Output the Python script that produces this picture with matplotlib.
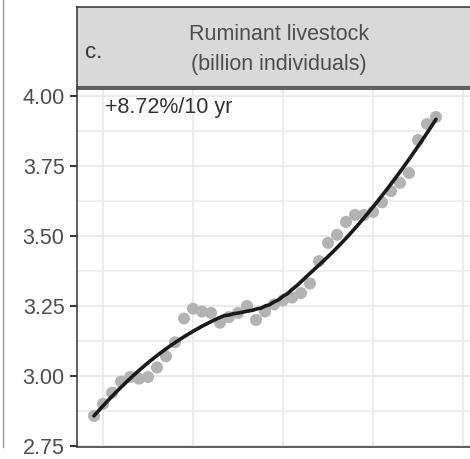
import numpy as np
import matplotlib
matplotlib.use("Agg")
import matplotlib.pyplot as plt
from matplotlib.lines import Line2D

plt.rcParams['font.family'] = ['Liberation Sans', 'DejaVu Sans']

# ruminant livestock head count, billion individuals
years = np.arange(1969, 2008)
livestock = np.array([
    2.857, 2.900, 2.940, 2.980, 2.996, 2.990, 2.996, 3.030, 3.070, 3.120,
    3.205, 3.240, 3.230, 3.225, 3.190, 3.210, 3.225, 3.250, 3.200, 3.230,
    3.255, 3.270, 3.280, 3.296, 3.330, 3.410, 3.475, 3.504, 3.550, 3.575,
    3.575, 3.586, 3.620, 3.660, 3.690, 3.725, 3.843, 3.900, 3.925,
])
trend_label = '+8.72%/10 yr'
y_ticks = [2.75, 3.00, 3.25, 3.50, 3.75, 4.00]
y_tick_labels = ['2.75', '3.00', '3.25', '3.50', '3.75', '4.00']
x_grid = [1970, 1980, 1990, 2000, 2010]


def loess(x, y, xs, span=0.75):
    # local quadratic fit with tricube weights
    n = len(x)
    k = int(np.ceil(span * n))
    fit = []
    for x0 in xs:
        d = np.abs(x - x0)
        h = np.sort(d)[k - 1]
        w = np.clip(1 - (d / h) ** 3, 0, None) ** 3
        X = np.vstack([np.ones(n), x - x0, (x - x0) ** 2]).T
        XtW = X.T * w
        beta = np.linalg.solve(XtW @ X, XtW @ y)
        fit.append(beta[0])
    return np.array(fit)


W, H = 470, 459
fig = plt.figure(figsize=(W / 100, H / 100), dpi=100)

# panel in pixel units: left 77, right 481, top 89, bottom 447
ax = fig.add_axes([77 / W, 1 - 447 / H, 404 / W, 358 / H])
ax.set_xlim(1967.11, 2012.0)
ax.set_ylim(2.746, 4.025)

ax.set_yticks(y_ticks)
ax.set_yticklabels(y_tick_labels)
ax.set_yticks(np.arange(2.875, 4.0, 0.25), minor=True)
ax.set_xticks(x_grid)
ax.tick_params(axis='x', which='both', length=0, labelbottom=False)
ax.tick_params(axis='y', which='major', length=5, width=1.4, color='#333333',
               pad=4, labelsize=15.5, labelcolor='#4d4d4d')
ax.tick_params(axis='y', which='minor', length=0)
ax.grid(True, which='major', color='#ebebeb', lw=1.5)
ax.grid(True, which='minor', axis='y', color='#ebebeb', lw=1.2)
ax.set_axisbelow(True)
for s in ax.spines.values():
    s.set_color('#333333')
    s.set_linewidth(1.1)

ax.scatter(years, livestock, s=75, color='#b3b3b3', edgecolors='none', zorder=2)
xs = np.linspace(years.min(), years.max(), 200)
ax.plot(xs, loess(years.astype(float), livestock, xs), color='#1a1a1a', lw=2.6,
        zorder=3, solid_capstyle='round')

ax.text(1970.2, 4.0 - (113 - 96) / 280, trend_label, ha='left', va='baseline',
        fontsize=15.5, color='#333333')

# facet strip
strip = fig.add_axes([77 / W, 1 - 87 / H, 404 / W, 80 / H])
strip.set_facecolor('#d9d9d9')
strip.set_xticks([])
strip.set_yticks([])
for s in strip.spines.values():
    s.set_color('#333333')
    s.set_linewidth(1.1)

fig.text(279 / W, 1 - 40 / H, 'Ruminant livestock', ha='center', va='baseline',
         fontsize=15.5, color='#4d4d4d')
fig.text(279 / W, 1 - 70 / H, '(billion individuals)', ha='center', va='baseline',
         fontsize=15.5, color='#4d4d4d')
fig.text(85 / W, 1 - 58 / H, 'c.', ha='left', va='baseline',
         fontsize=16, color='#333333')

# edge of the neighbouring panel
fig.add_artist(Line2D([3 / W, 3 / W], [1 - 447 / H, 1.0], transform=fig.transFigure,
                      color='#9a9a9a', lw=1.0))

fig.savefig('out.png', dpi=100)
